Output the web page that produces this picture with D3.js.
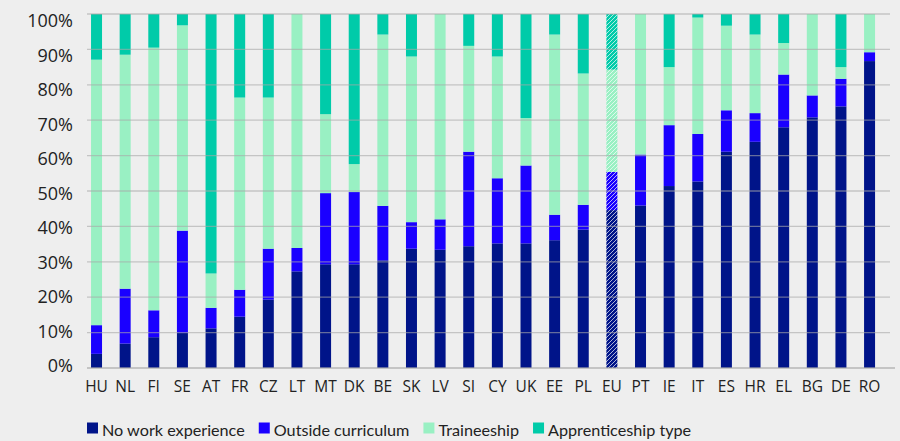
<!DOCTYPE html>
<html lang="en">
<head>
    <meta charset="UTF-8">
    <title>Work experience during studies</title>
    <script src="https://d3js.org/d3.v7.min.js"></script>
    <style>
        body {
            background-color: #eeeeee;
            margin: 0;
            padding: 0;
            font-family: "Open Sans", Lato, sans-serif;
        }

        .tick-label {
            font-size: 18px;
            fill: #222;
        }

        .cat-label {
            font-size: 15.5px;
            fill: #222;
        }

        .legend-label {
            font-family: Lato, "Open Sans", sans-serif;
            font-size: 16.2px;
            fill: #222;
        }
    </style>
</head>
<body>
    <div id="chart"></div>

    <script>
        // Daten (Anteile in %)
        const categories = ["HU", "NL", "FI", "SE", "AT", "FR", "CZ", "LT", "MT", "DK", "BE", "SK", "LV", "SI",
            "CY", "UK", "EE", "PL", "EU", "PT", "IE", "IT", "ES", "HR", "EL", "BG", "DE", "RO"];
        const noWork = [4.0, 6.9, 8.7, 9.9, 11.2, 14.5, 19.3, 27.3, 29.3, 29.3, 30.4, 33.7, 33.4, 34.4,
            35.2, 35.2, 36.1, 39.1, 44.6, 45.9, 51.4, 52.7, 61.1, 63.9, 68.0, 70.8, 73.9, 86.7];
        const outside = [8.1, 15.5, 7.6, 28.9, 5.8, 7.6, 14.4, 6.6, 20.1, 20.4, 15.4, 7.5, 8.6, 26.7,
            18.4, 22.0, 7.2, 7.0, 10.8, 14.4, 17.2, 13.4, 11.7, 8.1, 14.9, 6.2, 7.8, 2.5];
        const traineeship = [75.0, 66.1, 74.2, 58.0, 9.7, 54.3, 42.7, 66.1, 22.3, 7.9, 48.4, 46.8, 58.0, 29.9,
            34.4, 13.4, 50.9, 37.1, 28.9, 39.7, 16.4, 32.9, 23.9, 22.2, 8.9, 23.0, 3.3, 10.8];
        const apprenticeship = [12.9, 11.5, 9.5, 3.2, 73.3, 23.6, 23.6, 0, 28.3, 42.4, 5.8, 12.0, 0, 9.0,
            12.0, 29.4, 5.8, 16.8, 15.7, 0, 15.0, 1.0, 3.3, 5.8, 8.2, 0, 15.0, 0];
        const seriesNames = ["No work experience", "Outside curriculum", "Traineeship", "Apprenticeship type"];
        const seriesColors = ["#001489", "#1a00ff", "#99f0c3", "#00cba9"];
        const yTicks = [0, 10, 20, 30, 40, 50, 60, 70, 80, 90, 100];
        const highlight = "EU";

        const width = 900;
        const height = 441;

        const svg = d3.select("#chart")
            .append("svg")
            .attr("width", width)
            .attr("height", height);

        // Tabelle für d3.stack
        const table = categories.map((c, i) => ({
            cat: c,
            s0: noWork[i], s1: outside[i], s2: traineeship[i], s3: apprenticeship[i]
        }));
        const keys = ["s0", "s1", "s2", "s3"];
        const stacked = d3.stack().keys(keys)(table);

        const x = d3.scaleBand()
            .domain(categories)
            .range([73.4, 892.7])
            .paddingInner(0.616)
            .paddingOuter(0.616);

        const y = d3.scaleLinear().domain([0, 100]).range([368, 14]);
        // Beschriftungen sitzen im Original leicht versetzt zu den Linien
        const yLab = d3.scaleLinear().domain([0, 100]).range([366, 21]);

        // Schraffur für EU
        const defs = svg.append("defs");
        seriesColors.forEach((col, i) => {
            const p = defs.append("pattern")
                .attr("id", "hatch" + i)
                .attr("patternUnits", "userSpaceOnUse")
                .attr("width", 4)
                .attr("height", 4);
            p.append("rect").attr("width", 4).attr("height", 4).attr("fill", col);
            p.append("path")
                .attr("d", "M-1,1 l2,-2 M0,4 l4,-4 M3,5 l2,-2")
                .attr("stroke", "rgba(255,255,255,0.75)")
                .attr("stroke-width", 0.9);
        });

        // Balken
        svg.append("g")
            .selectAll("g")
            .data(stacked)
            .join("g")
            .each(function(layer, li) {
                d3.select(this).selectAll("rect")
                    .data(layer)
                    .join("rect")
                    .attr("x", d => x(d.data.cat))
                    .attr("width", x.bandwidth())
                    .attr("y", d => y(d[1]))
                    .attr("height", d => y(d[0]) - y(d[1]))
                    .attr("fill", d => d.data.cat === highlight ? `url(#hatch${li})` : seriesColors[li]);
            });

        // Gitternetz über den Balken
        svg.append("g")
            .selectAll("line")
            .data(yTicks)
            .join("line")
            .attr("x1", 87)
            .attr("x2", d => d === 0 ? 895 : 890)
            .attr("y1", d => y(d))
            .attr("y2", d => y(d))
            .attr("stroke", "#a8a8a8")
            .attr("stroke-opacity", 0.6)
            .attr("stroke-width", d => d === 0 ? 2 : 1.3);

        // Y-Achse
        svg.append("g")
            .selectAll("text")
            .data(yTicks)
            .join("text")
            .attr("class", "tick-label")
            .attr("x", 73)
            .attr("y", d => yLab(d))
            .attr("dy", "0.35em")
            .attr("text-anchor", "end")
            .text(d => d + "%");

        // X-Achse
        svg.append("g")
            .selectAll("text")
            .data(categories)
            .join("text")
            .attr("class", "cat-label")
            .attr("x", d => x(d) + x.bandwidth() / 2)
            .attr("y", 387)
            .attr("dy", "0.35em")
            .attr("text-anchor", "middle")
            .text(d => d);

        // Legende
        const legend = svg.append("g");
        let lx = 87;
        seriesNames.forEach((name, i) => {
            legend.append("rect")
                .attr("x", lx)
                .attr("y", 422.5)
                .attr("width", 11)
                .attr("height", 11)
                .attr("fill", seriesColors[i]);
            const t = legend.append("text")
                .attr("class", "legend-label")
                .attr("x", lx + 15)
                .attr("y", 435.5)
                .text(name);
            lx += 15 + t.node().getComputedTextLength() + 14;
        });
    </script>
</body>
</html>
